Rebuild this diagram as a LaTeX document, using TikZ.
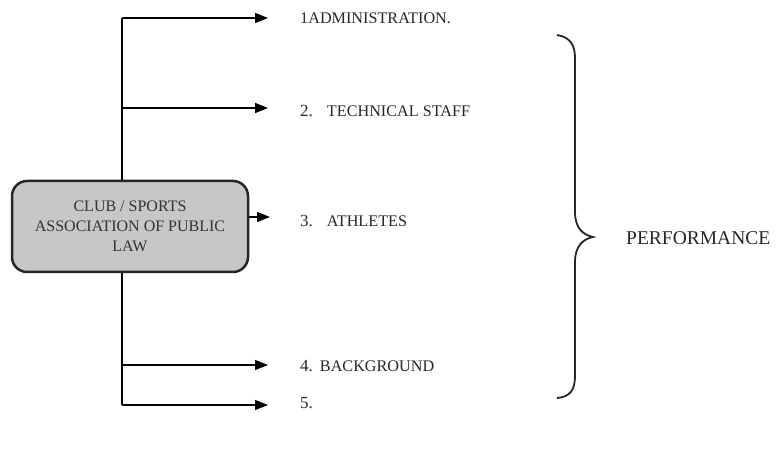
\documentclass[tikz,border=0pt]{standalone}
\usepackage{fontspec}
\setmainfont{Liberation Serif}
\usetikzlibrary{arrows.meta}
\begin{document}
\begin{tikzpicture}[x=1pt,y=-1pt,
  conn/.style={line width=1.5pt,-{Triangle[length=13pt,width=10pt]}},
  item/.style={anchor=west,inner sep=0pt,text=black!85,font=\fontsize{16.2}{18}\selectfont}]
\useasboundingbox (0,0) rectangle (776,462);
\node[draw=black!85,line width=2.5pt,fill=black!22,rounded corners=15pt,
  minimum width=236pt,minimum height=91pt,align=center,text=black!80,
  font=\fontsize{16}{20}\selectfont] (club) at (130,226.5)
  {CLUB / SPORTS\\ASSOCIATION OF PUBLIC\\LAW};
\coordinate (top) at (122,18);
\coordinate (bot) at (122,405);
\draw[line width=1.5pt] (top) -- (club.north -| top);
\draw[line width=1.5pt] (club.south -| top) -- (bot);
\node[item] (t1) at (300,18) {1ADMINISTRATION.};
\node[item] (t2) at (300,111) {{\fontsize{17}{18}\selectfont 2.}\hspace{14pt}TECHNICAL STAFF};
\node[item] (t3) at (300,221) {{\fontsize{17}{18}\selectfont 3.}\hspace{14pt}ATHLETES};
\node[item] (t4) at (300,366) {{\fontsize{17}{18}\selectfont 4.}\hspace{7pt}BACKGROUND};
\node[item] (t5) at (300,403) {{\fontsize{17}{18}\selectfont 5.}};
\coordinate (e1) at (268,18);
\coordinate (e2) at (268,108);
\coordinate (e4) at (268,365);
\coordinate (e5) at (268,405);
\draw[conn] (top) -- (e1);
\draw[conn] (122,108) -- (e2);
\draw[conn] (club.east |- 0,217) -- (270,217);
\draw[conn] (122,365) -- (e4);
\draw[conn] (bot) -- (e5);
\draw[line width=1.8pt,black!85] (557,35) .. controls (570,37) and (575,45) .. (575,58)
  -- (575,212) .. controls (575,228) and (583,235) .. (593,237)
  .. controls (583,239) and (575,246) .. (575,262)
  -- (575,376) .. controls (575,390) and (570,397) .. (557,398);
\node[anchor=west,inner sep=0pt,text=black!85,font=\fontsize{19.5}{22}\selectfont] (perf) at (626,238) {PERFORMANCE};
\end{tikzpicture}
\end{document}
